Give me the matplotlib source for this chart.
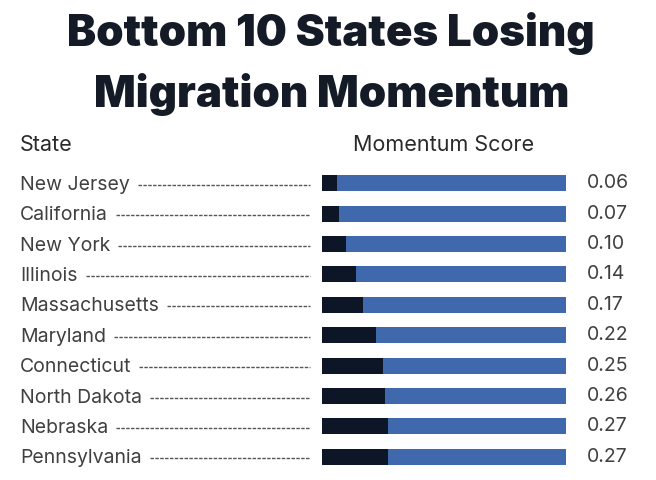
import matplotlib
matplotlib.use('Agg')
import matplotlib.pyplot as plt
from matplotlib.transforms import blended_transform_factory

plt.rcParams['font.family'] = ['Inter', 'DejaVu Sans']

states = ['New Jersey', 'California', 'New York', 'Illinois', 'Massachusetts',
          'Maryland', 'Connecticut', 'North Dakota', 'Nebraska', 'Pennsylvania']
scores = [0.06, 0.07, 0.10, 0.14, 0.17, 0.22, 0.25, 0.26, 0.27, 0.27]

DARK = '#0d1626'
BLUE = '#3f68ad'
TEXT = '#404040'

W, H = 656, 480
fig = plt.figure(figsize=(W / 100, H / 100), dpi=100)

# axes for the bars, placed in pixel units
x0, x1, ytop, ybot = 322, 566, 168, 472
ax = fig.add_axes([x0 / W, 1 - ybot / H, (x1 - x0) / W, (ybot - ytop) / H])
ax.set_xlim(0, 1)
ax.set_ylim(len(states) - 0.5, -0.5)
ax.axis('off')

rows = range(len(states))
rest = [1 - s for s in scores]
ax.barh(rows, scores, height=0.53, color=DARK)
ax.barh(rows, rest, left=scores, height=0.53, color=BLUE)

tr = blended_transform_factory(fig.transFigure, ax.transData)
labels = []
for i, (st, sc) in enumerate(zip(states, scores)):
    t = fig.text(20 / W, i + 0.05, st, transform=tr, ha='left', va='center',
                 fontsize=14, color=TEXT)
    labels.append(t)
    ax.text(587 / W, i, f'{sc:.2f}', transform=tr, ha='left', va='center',
            fontsize=14, color=TEXT)

# title and column headers
fig.text(0.505, 1 - 46 / H, 'Bottom 10 States Losing', ha='center', va='baseline',
         fontsize=31.5, fontweight='black', color='#141a26')
fig.text(0.505, 1 - 107 / H, 'Migration Momentum', ha='center', va='baseline',
         fontsize=31.5, fontweight='black', color='#141a26')
fig.text(20 / W, 1 - 145 / H, 'State', ha='left', va='center',
         fontsize=15.5, color='#2a2a2a')
fig.text(444 / W, 1 - 145 / H, 'Momentum Score', ha='center', va='center',
         fontsize=15.5, color='#2a2a2a')

# dotted leaders from label end to bar start
fig.canvas.draw()
renderer = fig.canvas.get_renderer()
for i, t in enumerate(labels):
    bb = t.get_window_extent(renderer)
    xs = (bb.x1 + 8) / W
    ax.plot([xs, 310 / W], [i + 0.05, i + 0.05], transform=tr, color='#555555',
            linewidth=1.0, linestyle=(0, (2.5, 1)), clip_on=False)

fig.savefig('out.png', dpi=100, facecolor='white')
